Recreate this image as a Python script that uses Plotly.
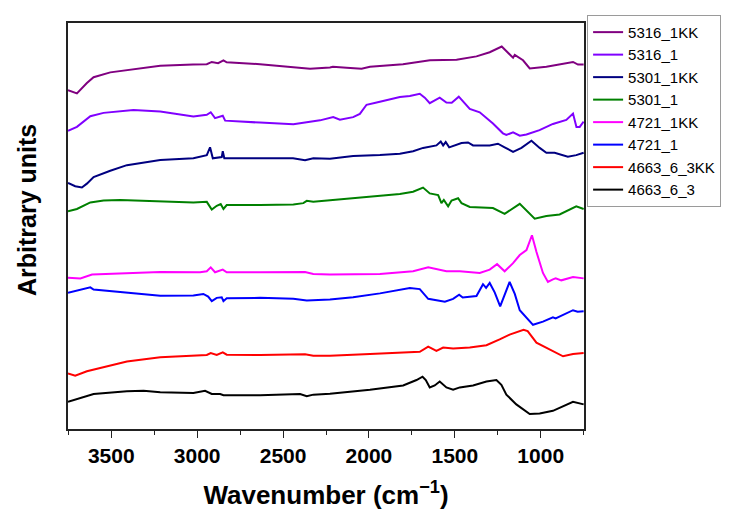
import plotly.graph_objects as go

# ---- data (wavenumber in cm-1, stacked arbitrary intensity) ----
names = ["5316_1KK", "5316_1", "5301_1KK", "5301_1", "4721_1KK", "4721_1", "4663_6_3KK", "4663_6_3"]
colors = ["#800080", "#8000FF", "#000080", "#008000", "#FF00FF", "#0000FF", "#FF0000", "#000000"]

wn_5316_1KK = [3752, 3700, 3642, 3603, 3506, 3409, 3215, 3024, 2944, 2915, 2878, 2847, 2828, 2634, 2442,
               2343, 2227, 2210, 2130, 2043, 1994, 1802, 1645, 1490, 1374, 1297, 1227, 1161, 1151, 1103,
               1064, 967, 812, 783, 750]
ab_5316_1KK = [348, 344.7, 355.3, 361.3, 366.3, 368.7, 373, 374.3, 374.7, 377, 375.7, 378.7, 376.7, 374.7, 371.3,
               370, 371.3, 372, 371, 370, 372, 374.7, 378.7, 379.3, 382.7, 387, 392.8, 381.3, 384.3, 378.7,
               370.3, 372, 377, 374.3, 374.3]

wn_5316_1 = [3752, 3700, 3622, 3545, 3371, 3215, 3022, 2944, 2921, 2896, 2851, 2837, 2634, 2440, 2285,
             2208, 2169, 2092, 2053, 2014, 1955, 1878, 1820, 1762, 1704, 1675, 1646, 1588, 1549, 1518,
             1477, 1413, 1355, 1278, 1220, 1200, 1161, 1122, 1083, 1007, 929, 851, 812, 792, 773, 750]
ab_5316_1 = [306.3, 310.3, 321.3, 324.7, 327.7, 326, 321, 322.7, 325.3, 319.3, 321.7, 316.7, 314.7, 313, 317,
             320.3, 317.7, 320.3, 323.7, 333, 335.3, 338.7, 341, 342, 344.3, 340.3, 334.7, 340.3, 335.3, 335,
             341.3, 328.7, 325.3, 313.7, 303.7, 302, 304.7, 301.3, 302.5, 307, 313.3, 317.5, 324, 310.3, 310.3, 315.7]

wn_5301_1KK = [3752, 3710, 3671, 3642, 3603, 3506, 3409, 3215, 3022, 2944, 2925, 2909, 2857, 2851, 2842,
               2634, 2442, 2372, 2324, 2227, 2092, 1936, 1820, 1743, 1685, 1607, 1582, 1568, 1553, 1533,
               1490, 1461, 1423, 1394, 1297, 1249, 1210, 1161, 1112, 1054, 1006, 967, 919, 842, 793, 750]
ab_5301_1KK = [252.7, 249.3, 248, 252, 258.7, 265.3, 271, 276.3, 278, 281.3, 289.3, 278, 279.3, 285.3, 278,
               278, 278, 276, 278, 277.7, 280.3, 281.3, 282.7, 285.3, 288.7, 291.3, 295.3, 291.3, 294.7, 289.3,
               292, 293.7, 294.3, 291.3, 291.3, 293, 289.3, 284.7, 288.7, 296, 288.7, 283.7, 283.7, 279.7, 281.3, 283.7]

wn_5301_1 = [3752, 3700, 3622, 3545, 3448, 3215, 3022, 2944, 2915, 2886, 2863, 2847, 2828, 2634, 2440,
             2382, 2362, 2324, 2227, 2092, 1936, 1820, 1743, 1685, 1646, 1597, 1578, 1564, 1539, 1519,
             1481, 1461, 1413, 1278, 1210, 1122, 1035, 967, 890, 793, 750]
ab_5301_1 = [223.7, 226, 232.7, 234.7, 235.3, 233.7, 232.7, 233.3, 225.3, 229.3, 231, 226, 230, 230, 230.7,
             232, 234.3, 233.3, 234.7, 237, 239.3, 241.3, 243.7, 248, 242, 240.3, 232, 235.3, 228.7, 234.7,
             237, 232, 228, 227, 221, 231.3, 216, 218.7, 220.3, 228.7, 226]

wn_4721_1KK = [3752, 3680, 3612, 3409, 3215, 2983, 2944, 2921, 2896, 2851, 2828, 2634, 2372, 2324, 2227,
               1936, 1743, 1655, 1597, 1549, 1471, 1355, 1297, 1254, 1210, 1161, 1122, 1083, 1051, 1025,
               987, 958, 929, 913, 880, 812, 750]
ab_4721_1KK = [155.3, 154.7, 158.7, 160.3, 161.3, 161, 162, 166, 161, 163.7, 161, 161, 161.3, 159.3, 158.7,
               159.3, 162, 166, 163.7, 162, 162, 160.3, 163.7, 169.3, 162, 170.3, 178.7, 183.7, 199, 182,
               160.3, 151, 153.7, 154.7, 152.7, 156, 154.7]

wn_4721_1 = [3752, 3680, 3622, 3603, 3409, 3215, 3022, 2964, 2936, 2915, 2886, 2857, 2847, 2828, 2634,
             2440, 2362, 2227, 2092, 1936, 1762, 1704, 1655, 1558, 1510, 1475, 1454, 1374, 1336, 1318,
             1297, 1268, 1236, 1210, 1181, 1151, 1122, 1045, 987, 929, 913, 812, 785, 750]
ab_4721_1 = [140, 143.3, 145.5, 143.3, 140.3, 136.8, 137, 138.7, 136, 131.3, 134.7, 135.3, 131.3, 134.3, 134.7,
             133.7, 132, 133, 135.3, 139.3, 144.7, 143.7, 133.7, 130.7, 133.7, 138, 135, 136.5, 148.7, 145,
             150, 140.3, 126, 137, 151, 138.7, 122, 107, 110.3, 114.7, 113.5, 122, 120.5, 121]

wn_4663_6_3KK = [3752, 3710, 3642, 3506, 3409, 3215, 3022, 2944, 2921, 2886, 2851, 2828, 2634, 2372, 2324,
                 2227, 1994, 1704, 1655, 1607, 1568, 1510, 1413, 1316, 1239, 1181, 1100, 1076, 1025, 948,
                 870, 812, 750]
ab_4663_6_3KK = [57, 54.7, 59.3, 65.3, 69.3, 73.7, 75.3, 76, 78, 76, 78.7, 76.3, 76, 76.7, 75.3,
                 75.3, 77, 79.3, 84.7, 80.3, 83.7, 82.7, 83.7, 86, 92, 97, 102, 100.5, 88.7, 82,
                 74.7, 77, 78]

wn_4663_6_3 = [3752, 3680, 3603, 3409, 3312, 3215, 3022, 2954, 2915, 2866, 2847, 2634, 2401, 2362, 2324,
               2227, 1994, 1801, 1723, 1688, 1669, 1646, 1617, 1588, 1549, 1510, 1471, 1394, 1316, 1258,
               1229, 1200, 1142, 1064, 1006, 929, 812, 750]
ab_4663_6_3 = [28, 32, 36, 38.7, 39.3, 37.7, 37, 39.3, 36, 36, 34.7, 34.7, 36, 33.7, 35.3,
               36.3, 40.3, 44.7, 50.3, 53.7, 50.3, 42.7, 44.7, 48.7, 42.7, 40.3, 42.7, 44.7, 48.7, 50.3,
               45.3, 35.3, 25.3, 15.3, 16, 18.7, 28, 25.3]

series_x = [wn_5316_1KK, wn_5316_1, wn_5301_1KK, wn_5301_1, wn_4721_1KK, wn_4721_1, wn_4663_6_3KK, wn_4663_6_3]
series_y = [ab_5316_1KK, ab_5316_1, ab_5301_1KK, ab_5301_1, ab_4721_1KK, ab_4721_1, ab_4663_6_3KK, ab_4663_6_3]

x_tickvals = [3500, 3000, 2500, 2000, 1500, 1000]
x_ticktext = ["3500", "3000", "2500", "2000", "1500", "1000"]

FONT = "Arial, Liberation Sans, sans-serif"

fig = go.Figure()
for nm, col, xs, ys in zip(names, colors, series_x, series_y):
    fig.add_trace(go.Scatter(x=xs, y=ys, mode="lines", name=nm,
                             line=dict(color=col, width=2)))

# page body has an 8px margin, so the figure is 8px smaller and margins shifted
fig.update_layout(
    width=731, height=504,
    margin=dict(l=60, r=155, t=7, b=80),
    plot_bgcolor="white", paper_bgcolor="white",
    font=dict(family=FONT, color="black"),
    showlegend=True,
    legend=dict(x=1.006, y=1.02, xanchor="left", yanchor="top",
                bordercolor="#9a9a9a", borderwidth=1, bgcolor="white",
                font=dict(size=15, color="black", family=FONT), tracegroupgap=0),
    annotations=[dict(text="Arbitrary units", textangle=-90, showarrow=False,
                      xref="paper", yref="paper", x=-0.079, y=0.54,
                      xanchor="center", yanchor="middle",
                      font=dict(size=25, family=FONT, color="black", weight="bold"))],
)
fig.update_xaxes(
    range=[3752, 748], showgrid=False, zeroline=False,
    showline=True, linecolor="#222222", linewidth=1.6, mirror=True,
    ticks="outside", ticklen=7, tickwidth=1.4, tickcolor="#222222",
    tickvals=x_tickvals, ticktext=x_ticktext,
    tickfont=dict(size=21, family=FONT, color="black", weight="bold"),
    minor=dict(ticks="outside", ticklen=4, tickwidth=1.4, tickcolor="#222222", dtick=250, tick0=750),
    title=dict(text="Wavenumber (cm<sup>\u22121</sup>)", standoff=20,
               font=dict(size=26, family=FONT, color="black", weight="bold")),
)
fig.update_yaxes(
    range=[0, 417], showgrid=False, zeroline=False, showticklabels=False, ticks="",
    showline=True, linecolor="#222222", linewidth=1.6, mirror=True,
)

fig.write_html("out.html")
